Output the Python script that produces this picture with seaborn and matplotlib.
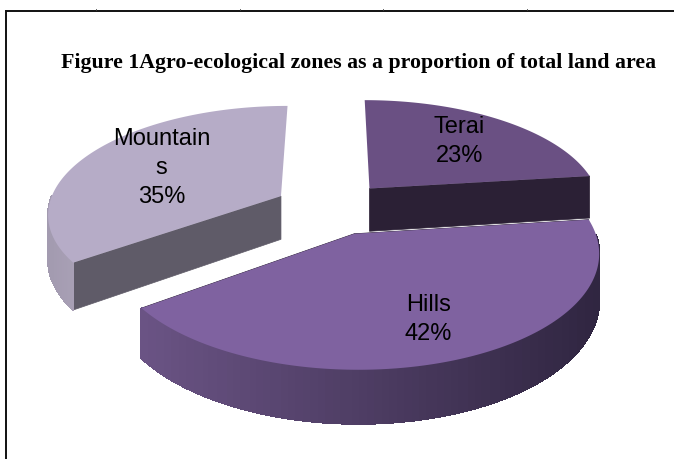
import numpy as np
import matplotlib
matplotlib.use("Agg")
import matplotlib.pyplot as plt
import seaborn as sns

labels = ["Terai", "Hills", "Mountains"]
shown_labels = ["Terai", "Hills", "Mountain\ns"]
values = [23, 42, 35]
title = "Figure 1Agro-ecological zones as a proportion of total land area"

top_colors = ["#6a5083", "#7f62a0", "#b6acc7"]
cut_colors = ["#2b2035", "#2b2035", "#5f5b68"]
wall_left = ["#35293f", "#6a5384", "#a39bb0"]
wall_right = ["#2b2035", "#2f2540", "#b0a7bd"]
label_radius = [0.66, 0.72, 0.62]

sns.set_theme(style="white")
plt.rcParams["font.family"] = ["Liberation Sans", "DejaVu Sans"]

# projection of the pie plane onto the page, in pixels
X0, Y0, RX, RY, K, DEPTH, EXPLODE = 332, 208, 233, 107, 0.15, 44, 0.25


def project(u, v, z=0.0):
    s = 1 / (1 + K * v)
    return X0 + RX * u * s, Y0 - RY * v * s + DEPTH * z * s


fig = plt.figure(figsize=(6.74, 4.59), dpi=100)
ax = fig.add_axes([0, 0, 1, 1])
ax.set_xlim(0, 674)
ax.set_ylim(459, 0)
ax.axis("off")

# slices run clockwise from twelve o'clock
edges = 90 - np.cumsum([0] + values) * 3.6
slices = []
for i in range(len(values)):
    a0, a1 = edges[i], edges[i + 1]
    mid = np.radians((a0 + a1) / 2)
    cu, cv = EXPLODE * np.cos(mid), EXPLODE * np.sin(mid)
    th = np.radians(np.linspace(a0, a1, 200))
    slices.append((cu, cv, th, mid))

for i in [2, 0, 1]:
    cu, cv, th, mid = slices[i]
    u = cu + np.cos(th)
    v = cv + np.sin(th)
    xt, yt = project(u, v)
    xb, yb = project(u, v, 1)
    cx, cy = project(cu, cv)
    cxb, cyb = project(cu, cv, 1)
    # cut faces, the ones running straight back stay hidden
    for j in [0, -1]:
        if abs(np.cos(th[j])) < 0.1:
            continue
        ax.fill([cx, xt[j], xb[j], cxb], [cy, yt[j], yb[j], cyb], color=cut_colors[i], lw=0.5, zorder=1)
    # outer wall, shaded left to right, only the part facing the viewer
    if i != 0:
        ramp = sns.blend_palette([wall_left[i], wall_right[i]], 60)
        for k in range(len(th) - 1):
            if np.sin(th[k]) > 0:
                continue
            pos = (xt[k] - 140) / (600 - 140) if i == 1 else (xt[k] - 50) / 60
            c = ramp[int(np.clip(pos, 0, 1) * 59)]
            ax.fill([xt[k], xt[k + 1], xb[k + 1], xb[k]], [yt[k], yt[k + 1], yb[k + 1], yb[k]],
                    color=c, lw=0.8, antialiased=False, zorder=1)
    # top surface
    ax.fill(np.r_[cx, xt], np.r_[cy, yt], color=top_colors[i], lw=0, zorder=1)
    r = label_radius[i]
    ax.text(*project(cu + r * np.cos(mid), cv + r * np.sin(mid)),
            f"{shown_labels[i]}\n{values[i]}%", ha="center", va="center", fontsize=17,
            linespacing=1.42, color="black", zorder=3)

# page frame with the table ticks along the top
ax.plot([6, 6], [459, 10], color="#111111", lw=1.4, solid_capstyle="butt")
ax.plot([6, 674], [10.5, 10.5], color="#111111", lw=1.4, solid_capstyle="butt")
for tx in [96, 240, 383, 527]:
    ax.plot([tx, tx], [8.5, 10], color="#444444", lw=0.7)

ax.text(359, 63, title, ha="center", va="center", fontsize=15.75, fontweight="bold",
        family=["Liberation Serif"], color="black")

fig.savefig("out.png", dpi=100)
